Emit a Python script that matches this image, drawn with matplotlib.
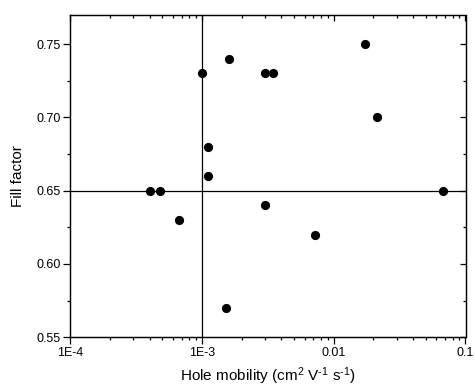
import matplotlib
matplotlib.use("Agg")
import matplotlib.pyplot as plt
from matplotlib.ticker import LogLocator, MultipleLocator, FixedFormatter, FixedLocator

plt.rcParams['font.family'] = ['Liberation Sans', 'DejaVu Sans']
plt.rcParams['mathtext.fontset'] = 'custom'
plt.rcParams['mathtext.rm'] = 'Liberation Sans'
plt.rcParams['mathtext.default'] = 'regular'

# hole mobility (cm2/Vs) vs fill factor
mobility = [4.0e-4, 4.8e-4, 6.7e-4, 1.0e-3, 1.11e-3, 1.11e-3, 1.51e-3, 1.61e-3,
            3.0e-3, 3.44e-3, 3.0e-3, 7.2e-3, 0.0172, 0.0212, 0.0676]
fill_factor = [0.65, 0.65, 0.63, 0.73, 0.68, 0.66, 0.57, 0.74,
               0.73, 0.73, 0.64, 0.62, 0.75, 0.70, 0.65]

ref_mobility = 1e-3
ref_ff = 0.65

xticks = [1e-4, 1e-3, 1e-2, 1e-1]
xticklabels = ['1E-4', '1E-3', '0.01', '0.1']
yticks = [0.55, 0.60, 0.65, 0.70, 0.75]

fig = plt.figure(figsize=(4.75, 3.88), dpi=100)
ax = fig.add_axes([0.148, 0.131, 0.832, 0.831])

ax.axvline(ref_mobility, color='black', lw=0.9, zorder=1)
ax.axhline(ref_ff, color='black', lw=0.9, zorder=1)
ax.plot(mobility, fill_factor, 'o', color='black', ms=5.6, zorder=3)

ax.set_xscale('log')
ax.set_xlim(1e-4, 0.1)
ax.set_ylim(0.55, 0.77)

ax.xaxis.set_major_locator(FixedLocator(xticks))
ax.xaxis.set_major_formatter(FixedFormatter(xticklabels))
ax.xaxis.set_minor_locator(LogLocator(base=10, subs=range(2, 10)))
ax.yaxis.set_major_locator(FixedLocator(yticks))
ax.yaxis.set_minor_locator(MultipleLocator(0.025))
ax.set_yticklabels(['%.2f' % v for v in yticks])

ax.tick_params(which='major', direction='out', length=5, width=0.9, labelsize=9, pad=2)
ax.tick_params(which='minor', direction='out', length=2.5, width=0.9)
for s in ax.spines.values():
    s.set_linewidth(0.9)

# mirrored inward ticks on top and right
axt = ax.twiny()
axt.set_xscale('log')
axt.set_xlim(ax.get_xlim())
axt.xaxis.set_major_locator(FixedLocator(xticks))
axt.xaxis.set_minor_locator(LogLocator(base=10, subs=range(2, 10)))
axt.tick_params(which='major', direction='in', length=4, width=0.9, labeltop=False)
axt.tick_params(which='minor', direction='in', length=2.5, width=0.9)

axr = ax.twinx()
axr.set_ylim(ax.get_ylim())
axr.yaxis.set_major_locator(FixedLocator(yticks))
axr.yaxis.set_minor_locator(MultipleLocator(0.025))
axr.tick_params(which='major', direction='in', length=4, width=0.9, labelright=False)
axr.tick_params(which='minor', direction='in', length=2.5, width=0.9)

ax.set_xlabel(r'Hole mobility (cm$^{2}$ V$^{\text{-1}}$ s$^{\text{-1}}$)', fontsize=11, labelpad=5)
ax.set_ylabel('Fill factor', fontsize=11, labelpad=8)

fig.savefig('out.png', dpi=100)
